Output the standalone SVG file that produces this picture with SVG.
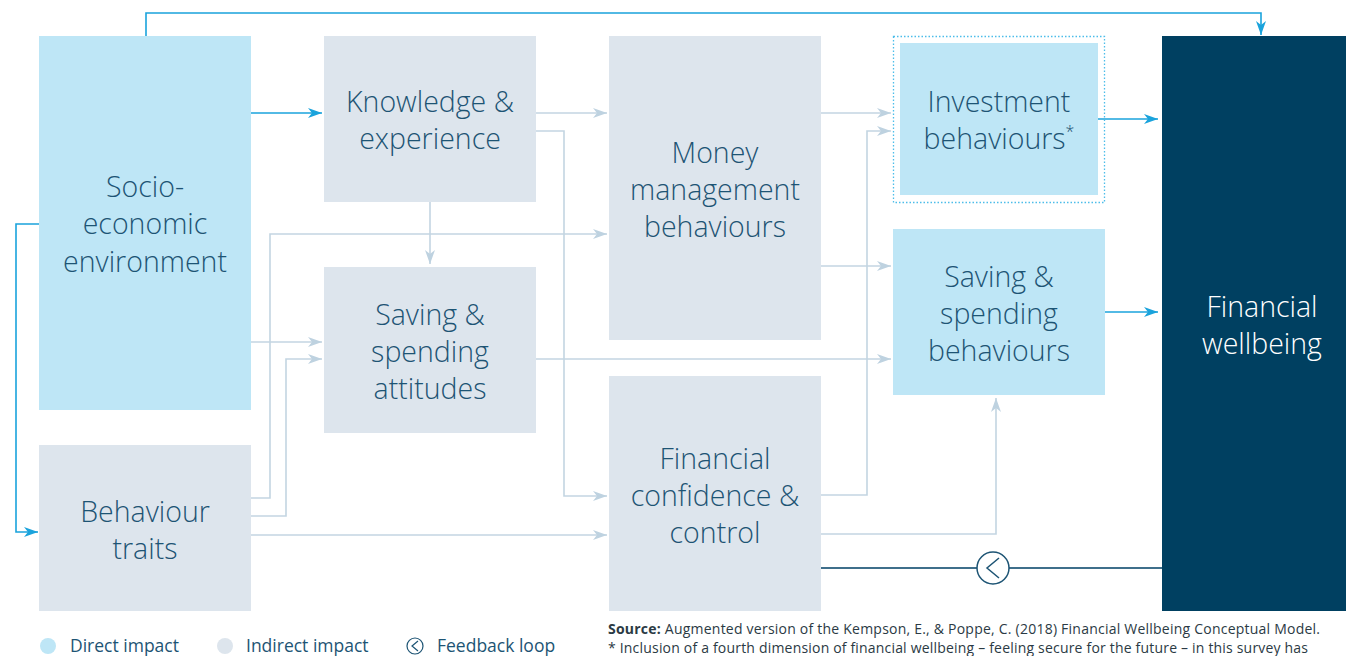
<svg xmlns="http://www.w3.org/2000/svg" width="1346" height="656" viewBox="0 0 1346 656">
<style>
.d{fill:#bee6f6}
.i{fill:#dde5ed}
.t{font-family:"Open Sans","Liberation Sans",sans-serif;font-weight:300;font-size:28.5px;fill:#1d5474;text-anchor:middle}
.cb{fill:none;stroke:#1aa3dc;stroke-width:1.6}
.cg{fill:none;stroke:#c3d5e2;stroke-width:1.6}
.lg{font-family:"Open Sans","Liberation Sans",sans-serif;font-size:17.5px;fill:#1d5474}
.src{font-family:"Open Sans","Liberation Sans",sans-serif;font-size:14px;fill:#2b3a44}
</style>
<defs>
<marker id="ab" viewBox="0 0 14 10" refX="14" refY="5" markerWidth="14" markerHeight="10" markerUnits="userSpaceOnUse" orient="auto">
<path d="M0,0 L14,5 L0,10 L4,5 Z" fill="#1aa3dc"/>
</marker>
<marker id="ag" viewBox="0 0 14 10" refX="14" refY="5" markerWidth="14" markerHeight="10" markerUnits="userSpaceOnUse" orient="auto">
<path d="M0,0 L14,5 L0,10 L4,5 Z" fill="#bed2e0"/>
</marker>
</defs>
<rect width="1346" height="656" fill="#ffffff"/>

<g id="connectors">
<path class="cb" d="M146,36 V13 H1261 V35" marker-end="url(#ab)"/>
<path class="cb" d="M251,113 H322" marker-end="url(#ab)"/>
<path class="cb" d="M39,224 H16 V532 H38" marker-end="url(#ab)"/>
<path class="cg" d="M536,113 H607" marker-end="url(#ag)"/>
<path class="cg" d="M536,131 H564 V496 H607" marker-end="url(#ag)"/>
<path class="cg" d="M430,202 V264" marker-end="url(#ag)"/>
<path class="cg" d="M251,498 H270 V234 H607" marker-end="url(#ag)"/>
<path class="cg" d="M251,342 H322" marker-end="url(#ag)"/>
<path class="cg" d="M251,516 H286 V359 H322" marker-end="url(#ag)"/>
<path class="cg" d="M251,535 H607" marker-end="url(#ag)"/>
<path class="cg" d="M536,359 H891" marker-end="url(#ag)"/>
<path class="cg" d="M821,113 H891" marker-end="url(#ag)"/>
<path class="cg" d="M821,266 H891" marker-end="url(#ag)"/>
<path class="cg" d="M821,495 H867 V131 H891" marker-end="url(#ag)"/>
<path class="cg" d="M821,534 H996 V398" marker-end="url(#ag)"/>
<path class="cb" d="M1098,119 H1158" marker-end="url(#ab)"/>
<path class="cb" d="M1105,312 H1158" marker-end="url(#ab)"/>
<path d="M821,568 H1162" fill="none" stroke="#3f6f8b" stroke-width="1.8"/>
<g id="feedback">
<circle cx="993" cy="568" r="16" fill="#ffffff" stroke="#1d5474" stroke-width="1.5"/>
<path d="M999,558 L987,568 L999,578" fill="none" stroke="#1d5474" stroke-width="1.5"/>
</g>
</g>

<g id="socio">
<rect class="d" x="39" y="36" width="212" height="374"/>
<text class="t" x="145" y="197">Socio-</text>
<text class="t" x="145" y="234">economic</text>
<text class="t" x="145" y="272">environment</text>
</g>
<g id="behaviour-traits">
<rect class="i" x="39" y="445" width="212" height="166"/>
<text class="t" x="145" y="522">Behaviour</text>
<text class="t" x="145" y="559">traits</text>
</g>
<g id="knowledge">
<rect class="i" x="324" y="36" width="212" height="166"/>
<text class="t" x="430" y="112">Knowledge &amp;</text>
<text class="t" x="430" y="149">experience</text>
</g>
<g id="attitudes">
<rect class="i" x="324" y="267" width="212" height="166"/>
<text class="t" x="430" y="325">Saving &amp;</text>
<text class="t" x="430" y="362">spending</text>
<text class="t" x="430" y="399">attitudes</text>
</g>
<g id="money-management">
<rect class="i" x="609" y="36" width="212" height="304"/>
<text class="t" x="715" y="163">Money</text>
<text class="t" x="715" y="200">management</text>
<text class="t" x="715" y="237">behaviours</text>
</g>
<g id="confidence">
<rect class="i" x="609" y="376" width="212" height="235"/>
<text class="t" x="715" y="469">Financial</text>
<text class="t" x="715" y="506">confidence &amp;</text>
<text class="t" x="715" y="543">control</text>
</g>
<g id="investment">
<rect x="893.5" y="36.5" width="211" height="166" fill="none" stroke="#4cbde9" stroke-width="1.3" stroke-dasharray="1.5 2"/>
<rect class="d" x="900" y="43" width="198" height="152"/>
<text class="t" x="999" y="112">Investment</text>
<text class="t" x="999" y="149">behaviours<tspan font-size="16" dy="-12">*</tspan></text>
</g>
<g id="saving-behaviours">
<rect class="d" x="893" y="229" width="212" height="166"/>
<text class="t" x="999" y="287">Saving &amp;</text>
<text class="t" x="999" y="324">spending</text>
<text class="t" x="999" y="361">behaviours</text>
</g>
<g id="wellbeing">
<rect x="1162" y="36" width="184" height="575" fill="#004061"/>
<text class="t" x="1262" y="317" style="fill:#ffffff">Financial</text>
<text class="t" x="1262" y="354" style="fill:#ffffff">wellbeing</text>
</g>

<g id="legend">
<circle cx="48" cy="646" r="8" fill="#bee6f6"/>
<text class="lg" x="70" y="652">Direct impact</text>
<circle cx="225" cy="646" r="8" fill="#dde5ed"/>
<text class="lg" x="246" y="652">Indirect impact</text>
<circle cx="415" cy="646" r="8" fill="#ffffff" stroke="#1d5474" stroke-width="1.2"/>
<path d="M418,641 L412,646 L418,651" fill="none" stroke="#1d5474" stroke-width="1.2"/>
<text class="lg" x="437" y="652">Feedback loop</text>
</g>
<g id="source">
<text class="src" x="608" y="634" textLength="712" lengthAdjust="spacing"><tspan font-weight="bold">Source:</tspan> Augmented version of the Kempson, E., &amp; Poppe, C. (2018) Financial Wellbeing Conceptual Model.</text>
<text class="src" x="608" y="653" textLength="700" lengthAdjust="spacing">* Inclusion of a fourth dimension of financial wellbeing – feeling secure for the future – in this survey has</text>
</g>
</svg>
